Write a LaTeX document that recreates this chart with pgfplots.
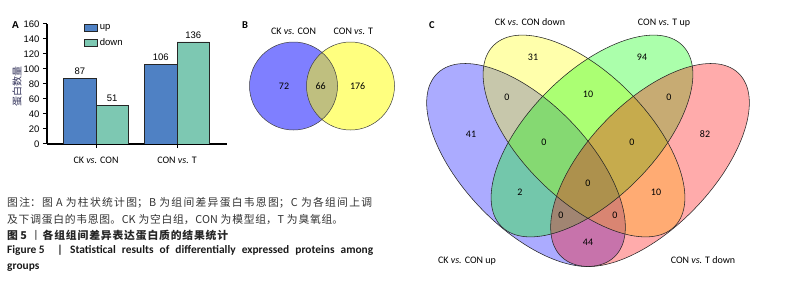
\documentclass[border=0pt]{standalone}
\usepackage{fontspec}
\setmainfont{Carlito}
\newfontfamily\arial{Liberation Sans}
\newfontfamily\cjk{Noto Sans CJK SC}
\usepackage{pgfplots}
\pgfplotsset{compat=1.18}
\XeTeXlinebreaklocale "zh"
\XeTeXlinebreakskip=0pt plus 2pt
\definecolor{upblue}{RGB}{79,129,196}
\definecolor{downgreen}{RGB}{125,200,178}
\definecolor{captxt}{RGB}{50,50,50}
\definecolor{vblue}{RGB}{0,0,255}
\definecolor{vyellow}{RGB}{255,255,0}
\definecolor{vgreen}{RGB}{0,255,0}
\definecolor{vred}{RGB}{255,0,0}
\newcommand{\fs}[1]{\fontsize{#1}{#1}\selectfont}
\newcommand{\jline}[2]{\parbox[b]{#1}{\tolerance=10000\parfillskip=0pt\relax #2}}
\begin{document}
\begin{tikzpicture}
\path[use as bounding box] (0,0) rectangle (812pt,284pt);
% ---------------- Panel A ----------------
\begin{axis}[
  at={(47pt,140pt)}, anchor=south west,
  width=180pt, height=120pt, scale only axis,
  xmin=-0.605, xmax=1.617, ymin=0, ymax=160,
  axis x line=bottom, axis y line=left,
  axis line style={-, line width=1.2pt, black},
  ybar=0pt, bar width=0.4,
  xtick={0,1}, xticklabels={CK \textit{vs.} CON, CON \textit{vs.} T},
  ytick={0,20,...,160},
  tick align=outside, major tick length=4pt,
  tick style={black, line width=1pt},
  yticklabel style={font=\arial\fs{9.5}},
  xticklabel style={font=\fs{10}, yshift=-5pt},
  /pgf/number format/assume math mode=true,
  nodes near coords,
  nodes near coords style={font=\arial\fs{9.5}, text=black},
  legend style={at={(0.205,1.017)}, anchor=north west, draw=none, fill=none,
    font=\arial\fs{9.5}, inner sep=0pt, row sep=4pt},
  legend cell align=left,
  every axis plot post/.append style={legend image code/.code={
    \draw[##1, line width=0.8pt, draw=black!85] (0pt,-3.5pt) rectangle (13pt,3.5pt);}},
]
\addplot[fill=upblue, draw=black!85, line width=0.8pt] coordinates {(0,87) (1,106)};
\addplot[fill=downgreen, draw=black!85, line width=0.8pt] coordinates {(0,51) (1,136)};
\legend{up, down}
\end{axis}
\node[rotate=90, font=\cjk\fs{10}, text={rgb,255:red,50;green,50;blue,90}] at (17pt,197pt) {蛋白数量};
\node[font=\arial\bfseries\fs{10}] at (15.5pt,259pt) {A};
\node[font=\bfseries\fs{10.5}] at (245pt,259pt) {B};
\node[font=\bfseries\fs{10.5}] at (432pt,259pt) {C};
% ---------------- Panels B and C (pixel coordinates) ----------------
\begin{axis}[at={(0pt,0pt)}, anchor=south west, x=1pt, y=1pt, y dir=reverse,
  xmin=0, xmax=812, ymin=0, ymax=284, hide axis, clip=false]
% Panel B
\fill[vblue, opacity=0.5] (axis cs:293.5,86) circle[radius=44pt];
\fill[vyellow, opacity=0.5] (axis cs:350.5,86) circle[radius=44pt];
\draw[black!75, line width=0.5pt] (axis cs:293.5,86) circle[radius=44pt];
\draw[black!75, line width=0.5pt] (axis cs:350.5,86) circle[radius=44pt];
\node[font=\fs{10}, anchor=base] at (axis cs:293.5,34.2) {CK \textit{vs.} CON};
\node[font=\fs{10}, anchor=base] at (axis cs:353.3,34.2) {CON \textit{vs.} T};
\node[font=\fs{10}, anchor=base] at (axis cs:284,89.2) {72};
\node[font=\fs{10}, anchor=base] at (axis cs:320.7,89.2) {66};
\node[font=\fs{10}, anchor=base] at (axis cs:357.7,89.2) {176};
% Panel C
\fill[vblue, opacity=0.33, rotate around={-46:(axis cs:526,165)}] (axis cs:526,165) ellipse[x radius=127.5pt, y radius=62.5pt];
\fill[vyellow, opacity=0.33, rotate around={-45:(axis cs:584,136)}] (axis cs:584,136) ellipse[x radius=128pt, y radius=63pt];
\fill[vgreen, opacity=0.33, rotate around={45:(axis cs:592,136)}] (axis cs:592,136) ellipse[x radius=128pt, y radius=63pt];
\fill[vred, opacity=0.33, rotate around={46:(axis cs:650,165)}] (axis cs:650,165) ellipse[x radius=127.5pt, y radius=62.5pt];
\draw[black!85, line width=0.55pt, rotate around={-46:(axis cs:526,165)}] (axis cs:526,165) ellipse[x radius=127.5pt, y radius=62.5pt];
\draw[black!85, line width=0.55pt, rotate around={-45:(axis cs:584,136)}] (axis cs:584,136) ellipse[x radius=128pt, y radius=63pt];
\draw[black!85, line width=0.55pt, rotate around={45:(axis cs:592,136)}] (axis cs:592,136) ellipse[x radius=128pt, y radius=63pt];
\draw[black!85, line width=0.55pt, rotate around={46:(axis cs:650,165)}] (axis cs:650,165) ellipse[x radius=127.5pt, y radius=62.5pt];
\node[font=\fs{10}, anchor=base] at (axis cs:530,25.9) {CK \textit{vs.} CON down};
\node[font=\fs{10}, anchor=base] at (axis cs:664,25.9) {CON \textit{vs.} T up};
\node[font=\fs{10}, anchor=base] at (axis cs:467,263.2) {CK \textit{vs.} CON up};
\node[font=\fs{10}, anchor=base] at (axis cs:703,263.2) {CON \textit{vs.} T down};
\node[font=\fs{10}, anchor=base] at (axis cs:533,60.2) {31};
\node[font=\fs{10}, anchor=base] at (axis cs:642,60.2) {94};
\node[font=\fs{10}, anchor=base] at (axis cs:507,100.2) {0};
\node[font=\fs{10}, anchor=base] at (axis cs:588,97.2) {10};
\node[font=\fs{10}, anchor=base] at (axis cs:669,100.2) {0};
\node[font=\fs{10}, anchor=base] at (axis cs:471,137.2) {41};
\node[font=\fs{10}, anchor=base] at (axis cs:705,137.2) {82};
\node[font=\fs{10}, anchor=base] at (axis cs:544,145.2) {0};
\node[font=\fs{10}, anchor=base] at (axis cs:632,145.2) {0};
\node[font=\fs{10}, anchor=base] at (axis cs:520,195.2) {2};
\node[font=\fs{10}, anchor=base] at (axis cs:656,195.2) {10};
\node[font=\fs{10}, anchor=base] at (axis cs:588,186.2) {0};
\node[font=\fs{10}, anchor=base] at (axis cs:561,218.2) {0};
\node[font=\fs{10}, anchor=base] at (axis cs:615,218.2) {0};
\node[font=\fs{10}, anchor=base] at (axis cs:588,245.2) {44};
\end{axis}
% ---------------- Caption ----------------
\node[anchor=base west, inner sep=0pt, font=\cjk\fs{10.8}, text=captxt] at (7pt,77pt)
  {\jline{365pt}{图注：图 A 为柱状统计图；B 为组间差异蛋白韦恩图；C 为各组间上调}};
\node[anchor=base west, inner sep=0pt, font=\cjk\fs{10.8}, text=captxt] at (7pt,60.8pt)
  {\jline{336pt}{及下调蛋白的韦恩图。CK 为空白组，CON 为模型组，T 为臭氧组。}};
\node[anchor=base west, inner sep=0pt, font=\cjk\bfseries\fs{10.8}, text=black!85] at (7pt,44.8pt) {图 5};
\node[anchor=base, inner sep=0pt, font=\cjk\fs{10.8}, text=black!85] at (36pt,44.8pt) {丨};
\node[anchor=base west, inner sep=0pt, font=\cjk\bfseries\fs{10.8}, text=black!85] at (42.5pt,44.8pt)
  {\jline{185.5pt}{各组组间差异表达蛋白质的结果统计}};
\node[anchor=base west, inner sep=0pt, font=\bfseries\fs{11.4}, text=black!90] at (7pt,30pt) {Figure 5};
\node[anchor=base, inner sep=0pt, font=\bfseries\fs{11.4}, text=black!90] at (60pt,30pt) {|};
\node[anchor=base west, inner sep=0pt, font=\bfseries\fs{11.4}, text=black!90] at (70pt,30pt)
  {\jline{303pt}{Statistical results of differentially expressed proteins among}};
\node[anchor=base west, inner sep=0pt, font=\bfseries\fs{11.4}, text=black!90] at (7pt,14.5pt) {groups};
\end{tikzpicture}
\end{document}
